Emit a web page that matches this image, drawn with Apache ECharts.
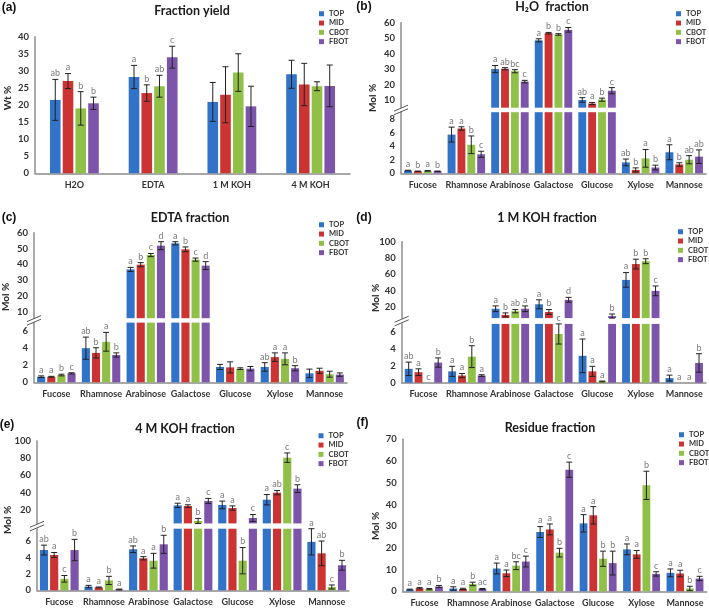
<!DOCTYPE html>
<html><head><meta charset="utf-8">
<script src="https://cdn.jsdelivr.net/npm/echarts@6/dist/echarts.min.js"></script>
<style>html,body{margin:0;padding:0;background:#fff}#c{width:709px;height:609px}</style>
</head><body><div id="c"></div>
<script>
// ---------- data ----------
const groups = ['TOP', 'MID', 'CBOT', 'FBOT'];
const groupColors = ['#3173c8', '#cc3333', '#90c048', '#7c55ab'];
const yieldCats = ['H2O', 'EDTA', '1 M KOH', '4 M KOH'];
const sugarCats = ['Fucose', 'Rhamnose', 'Arabinose', 'Galactose', 'Glucose', 'Xylose', 'Mannose'];

// tick labels
const yieldTicks = [0, 5, 10, 15, 20, 25, 30, 35, 40];
const h2oLowTicks = [0, 2, 4, 6, 8];
const h2oHighTicks = [10, 20, 30, 40, 50, 60];
const edtaLowTicks = [0, 2, 4, 6];
const edtaHighTicks = [10, 20, 30, 40, 50, 60];
const koh1LowTicks = [0, 2, 4, 6];
const koh1HighTicks = [20, 40, 60, 80, 100];
const koh4LowTicks = [0, 2, 4, 6];
const koh4HighTicks = [20, 40, 60, 80, 100];
const residueTicks = [0, 10, 20, 30, 40, 50, 60, 70];

// (a) Fraction yield, rows = TOP, MID, CBOT, FBOT
const yieldMean = [[21.5, 28.2, 20.9, 29.0], [27.0, 23.5, 23.0, 26.0], [19.0, 25.5, 29.5, 25.5], [20.5, 34.0, 19.6, 25.6]];
const yieldErr = [[6.0, 3.4, 5.7, 4.1], [2.2, 2.4, 8.2, 6.2], [4.9, 3.2, 5.5, 1.3], [1.8, 3.2, 5.9, 6.1]];
const yieldLetters = [['ab', 'a', '', ''], ['a', 'b', '', ''], ['b', 'ab', '', ''], ['b', 'c', '', '']];

// (b) H2O fraction
const h2oMean = [[0.4, 5.7, 30.0, 48.6, 10.0, 1.6, 3.1], [0.3, 6.6, 30.2, 53.2, 7.7, 0.5, 1.3], [0.35, 4.2, 28.6, 52.4, 10.2, 2.2, 2.0], [0.3, 2.8, 21.9, 55.4, 16.0, 0.85, 2.45]];
const h2oErr = [[0.05, 1.1, 2.3, 1.0, 1.5, 0.5, 1.1], [0.03, 0.25, 0.7, 0.5, 0.7, 0.3, 0.25], [0.05, 1.3, 1.0, 0.5, 1.0, 1.3, 0.6], [0.04, 0.45, 0.8, 1.5, 2.0, 0.35, 1.0]];
const h2oLetters = [['a', 'a', 'a', 'a', 'ab', 'ab', 'a'], ['b', 'a', 'ab', 'b', 'a', 'b', 'b'], ['a', 'b', 'bc', 'b', 'b', 'a', 'ab'], ['b', 'c', 'c', 'c', 'c', 'b', 'ab']];

// (c) EDTA fraction
const edtaMean = [[0.65, 4.0, 36.8, 53.3, 1.8, 1.8, 1.05], [0.65, 3.45, 39.8, 49.5, 1.75, 2.95, 1.35], [0.85, 4.75, 45.9, 43.0, 1.6, 2.75, 0.95], [1.05, 3.2, 51.8, 39.2, 1.6, 1.65, 0.9]];
const edtaErr = [[0.1, 1.3, 1.3, 1.0, 0.3, 0.5, 0.5], [0.05, 0.6, 1.3, 1.5, 0.65, 0.5, 0.3], [0.1, 1.1, 1.0, 1.0, 0.1, 0.7, 0.35], [0.07, 0.25, 2.5, 2.5, 0.25, 0.3, 0.2]];
const edtaLetters = [['a', 'ab', 'a', 'a', '', 'ab', ''], ['a', 'b', 'b', 'b', '', 'a', ''], ['b', 'a', 'c', 'c', '', 'a', ''], ['c', 'b', 'd', 'd', '', 'b', '']];

// (d) 1 M KOH fraction
const koh1Mean = [[1.65, 1.35, 17.5, 23.0, 3.2, 53.0, 0.55], [1.25, 0.85, 9.9, 13.5, 1.35, 72.5, 0], [0, 3.1, 14.5, 5.8, 0.15, 76.0, 0], [2.4, 0.85, 17.5, 28.5, 8.5, 39.5, 2.35]];
const koh1Err = [[0.8, 0.6, 3.5, 5.5, 2.0, 9.0, 0.35], [0.4, 0.25, 2.5, 3.0, 0.6, 6.0, 0], [0, 1.3, 2.0, 1.2, 0.05, 3.0, 0], [0.55, 0.1, 3.5, 3.0, 2.5, 6.0, 1.1]];
const koh1Letters = [['ab', 'a', 'a', 'a', 'a', 'a', 'a'], ['a', 'a', 'b', 'b', 'a', 'b', 'a'], ['c', 'b', 'ab', 'c', 'a', 'b', 'a'], ['b', 'a', 'a', 'd', 'b', 'c', 'b']];

// (e) 4 M KOH fraction
const koh4Mean = [[4.9, 0.45, 5.0, 25.0, 25.5, 31.6, 5.9], [4.3, 0.35, 3.9, 24.2, 21.9, 39.8, 4.5], [1.4, 1.2, 3.6, 6.8, 3.6, 80.6, 0.4], [4.9, 0.1, 5.6, 30.1, 10.3, 44.5, 3.05]];
const koh4Err = [[0.6, 0.15, 0.4, 2.5, 4.5, 6.0, 1.6], [0.3, 0.05, 0.2, 1.5, 2.5, 2.5, 1.5], [0.4, 0.5, 0.9, 3.0, 1.6, 5.5, 0.25], [1.3, 0.05, 1.1, 3.0, 4.0, 4.5, 0.6]];
const koh4Letters = [['ab', 'a', 'ab', 'a', 'a', 'a', 'a'], ['a', 'a', 'a', 'a', 'a', 'ab', 'ab'], ['c', 'b', 'a', 'b', 'b', 'c', 'c'], ['b', 'a', 'b', 'c', 'c', 'b', 'b']];

// (f) Residue fraction
const residueMean = [[0.8, 1.3, 10.5, 27.3, 31.3, 19.3, 8.5], [1.4, 1.1, 8.3, 28.5, 35.0, 17.0, 8.2], [1.0, 3.4, 11.8, 17.8, 15.0, 48.8, 1.3], [2.2, 1.1, 13.7, 56.0, 13.0, 8.0, 5.9]];
const residueErr = [[0.2, 0.8, 2.5, 2.5, 4.0, 2.5, 1.8], [0.3, 0.3, 1.5, 2.5, 4.0, 1.8, 1.5], [0.3, 0.8, 1.8, 2.0, 3.5, 6.5, 1.0], [0.5, 0.2, 2.5, 3.5, 5.5, 1.0, 1.0]];
const residueLetters = [['a', 'a', 'a', 'a', 'a', 'a', 'a'], ['a', 'a', 'a', 'a', 'a', 'a', 'a'], ['a', 'b', 'bc', 'b', 'b', 'b', 'b'], ['b', 'ac', 'c', 'c', 'b', 'c', 'c']];

// ---------- layout ----------
const panels = [
  { tag: '(a)', title: 'Fraction yield', yName: 'Wt %', cats: yieldCats, mean: yieldMean, err: yieldErr, letters: yieldLetters,
    x0: 35, x1: 350, titleAt: [192, 11], tagAt: [9, 7.5], yNameAt: [8, 98], legendAt: [319, 9.5], catGap: 0.38, barGap: 0.2, split: Infinity,
    axes: [{ top: 36.7, bottom: 173.3, min: 0, max: 40, interval: 5, ticks: yieldTicks }] },
  { tag: '(b)', title: 'H\u2082O  fraction', yName: 'Mol %', cats: sugarCats, mean: h2oMean, err: h2oErr, letters: h2oLetters,
    x0: 401, x1: 706, titleAt: [552, 6.5], tagAt: [364, 7], yNameAt: [373, 98], legendAt: [676, 9.5], catGap: 0.14, barGap: 0.25, split: 7,
    axes: [{ top: 112.2, bottom: 173.3, min: 0, max: 9, interval: 1, ticks: h2oLowTicks },
           { top: 22.7, bottom: 107.7, min: 5, max: 60, interval: 1, ticks: h2oHighTicks }] },
  { tag: '(c)', title: 'EDTA fraction', yName: 'Mol %', cats: sugarCats, mean: edtaMean, err: edtaErr, letters: edtaLetters,
    x0: 34, x1: 347, titleAt: [190, 217.5], tagAt: [9, 217.5], yNameAt: [6, 297], legendAt: [319, 220.5], catGap: 0.14, barGap: 0.25, split: 7,
    axes: [{ top: 322.6, bottom: 382.3, min: 0, max: 7, interval: 1, ticks: edtaLowTicks },
           { top: 232.7, bottom: 318.2, min: 6, max: 60, interval: 1, ticks: edtaHighTicks }] },
  { tag: '(d)', title: '1 M KOH fraction', yName: 'Mol %', cats: sugarCats, mean: koh1Mean, err: koh1Err, letters: koh1Letters,
    x0: 401.7, x1: 706, titleAt: [547, 217.5], tagAt: [364, 217.5], yNameAt: [376, 298], legendAt: [678, 227.5], catGap: 0.14, barGap: 0.25, split: 7,
    axes: [{ top: 323.9, bottom: 382.7, min: 0, max: 7, interval: 1, ticks: koh1LowTicks },
           { top: 241.7, bottom: 318.1, min: 6, max: 100, interval: 1, ticks: koh1HighTicks }] },
  { tag: '(e)', title: '4 M KOH fraction', yName: 'Mol %', cats: sugarCats, mean: koh4Mean, err: koh4Err, letters: koh4Letters,
    x0: 37, x1: 349, titleAt: [185, 428.5], tagAt: [7, 424.5], yNameAt: [8, 520], legendAt: [318.5, 431.5], catGap: 0.13, barGap: 0.25, split: 6.5,
    axes: [{ top: 528.7, bottom: 590.3, min: 0, max: 7.5, interval: 0.5, ticks: koh4LowTicks },
           { top: 441, bottom: 523.4, min: 4, max: 100, interval: 1, ticks: koh4HighTicks }] },
  { tag: '(f)', title: 'Residue fraction', yName: 'Mol %', cats: sugarCats, mean: residueMean, err: residueErr, letters: residueLetters,
    x0: 402.7, x1: 706.7, titleAt: [550, 427.5], tagAt: [362.5, 423], yNameAt: [376, 526], legendAt: [679, 430.5], catGap: 0.15, barGap: 0.25, split: Infinity,
    axes: [{ top: 439.3, bottom: 591.3, min: 0, max: 70, interval: 10, ticks: residueTicks }] }
];

const FONT = 'Lato, "Open Sans", sans-serif';
const AXIS_COLOR = '#8c8c8c';

function makeRender(p) {
  return function (params, api) {
    const i = api.value(0), m = api.value(1), e = api.value(2), s = api.value(3);
    const band = api.size([1, 0])[0];
    const rem = band * (1 - p.catGap);
    const w = rem / (4 + 3 * p.barGap);
    const cx = api.coord([i, m])[0] - rem / 2 + s * w * (1 + p.barGap) + w / 2;
    const yT = api.coord([i, m + e])[1];
    const yB = api.coord([i, m - e])[1];
    const cap = Math.min(3, w * 0.38);
    const ls = { stroke: '#222', lineWidth: 1 };
    const children = [];
    if (e > 0) {
      children.push({ type: 'line', shape: { x1: cx, y1: yT, x2: cx, y2: yB }, style: ls });
      children.push({ type: 'line', shape: { x1: cx - cap, y1: yT, x2: cx + cap, y2: yT }, style: ls });
      children.push({ type: 'line', shape: { x1: cx - cap, y1: yB, x2: cx + cap, y2: yB }, style: ls });
    }
    const L = p.letters[s][i];
    if (L) {
      children.push({ type: 'text', x: cx, y: yT - 1.5,
        style: { text: L, fill: '#7a7a7a', font: '9px ' + FONT, align: 'center', verticalAlign: 'bottom', textAlign: 'center', textVerticalAlign: 'bottom' } });
    }
    return { type: 'group', children: children };
  };
}

function txt(x, y, text, font, fill, rot) {
  return { type: 'text', x: x, y: y, rotation: rot || 0, z: 10,
    style: { text: text, font: font, fill: fill, align: 'center', verticalAlign: 'middle', textAlign: 'center', textVerticalAlign: 'middle' } };
}

const option = { animation: false, backgroundColor: '#ffffff', grid: [], xAxis: [], yAxis: [], series: [], legend: [], graphic: [] };

panels.forEach(function (p) {
  const nG = p.axes.length;
  p.axes.forEach(function (ax, k) {
    const gi = option.grid.length;
    option.grid.push({ left: p.x0, top: ax.top, width: p.x1 - p.x0, height: ax.bottom - ax.top, containLabel: false, outerBoundsMode: 'none' });
    option.xAxis.push({ type: 'category', gridIndex: gi, data: p.cats, show: k === 0,
      axisLine: { lineStyle: { color: AXIS_COLOR, width: 1.5 } }, axisTick: { show: false }, splitLine: { show: false },
      axisLabel: { interval: 0, margin: 7, fontSize: 9, fontWeight: 'bold', color: '#333', fontFamily: FONT } });
    const ticks = ax.ticks;
    option.yAxis.push({ type: 'value', gridIndex: gi, min: ax.min, max: ax.max, interval: ax.interval,
      axisLine: { show: true, lineStyle: { color: AXIS_COLOR, width: 1.5 } }, axisTick: { show: false }, splitLine: { show: false },
      axisLabel: { margin: 6, fontSize: 9.5, fontWeight: 'bold', color: '#333', fontFamily: FONT,
        formatter: function (v) { return ticks.some(function (t) { return Math.abs(t - v) < 1e-6; }) ? String(v) : ''; } } });
    const inGrid = function (m) { return nG === 1 ? true : (k === 0 ? m <= p.split : m > p.split); };
    groups.forEach(function (g, s) {
      const data = p.mean[s].map(function (m) {
        if (nG === 1) return m;
        if (k === 0) return m > p.split ? ax.max : m;
        return m > p.split ? m : '-';
      });
      option.series.push({ type: 'bar', name: g, xAxisIndex: gi, yAxisIndex: gi, data: data, clip: true, silent: true,
        barCategoryGap: (p.catGap * 100) + '%', barGap: (p.barGap * 100) + '%',
        itemStyle: { color: groupColors[s] } });
    });
    const errData = [];
    groups.forEach(function (g, s) {
      p.mean[s].forEach(function (m, i) { if (inGrid(m)) errData.push([i, m, p.err[s][i], s]); });
    });
    option.series.push({ type: 'custom', xAxisIndex: gi, yAxisIndex: gi, data: errData, z: 5, silent: true,
      encode: { x: 0, y: 1 }, renderItem: makeRender(p) });
  });

  if (nG === 2) {
    const lower = p.axes[0], upper = p.axes[1];
    const mid = (upper.bottom + lower.top) / 2;
    const bx = p.x0;
    [-1.8, 1.8].forEach(function (d) {
      option.graphic.push({ type: 'line', z: 10, shape: { x1: bx - 7, y1: mid + d + 3, x2: bx + 7, y2: mid + d - 3 },
        style: { stroke: '#555', lineWidth: 1 } });
    });
  }

  option.legend.push({ orient: 'vertical', left: p.legendAt[0], top: p.legendAt[1], data: groups, icon: 'rect',
    itemWidth: 5, itemHeight: 5, itemGap: 0.8, padding: 0, selectedMode: false,
    textStyle: { fontSize: 7.5, fontWeight: 'bold', color: '#333', fontFamily: FONT, lineHeight: 8.5 } });

  option.graphic.push(txt(p.titleAt[0], p.titleAt[1], p.title, 'bold 12.5px ' + FONT, '#1a1a1a'));
  option.graphic.push(txt(p.tagAt[0], p.tagAt[1], p.tag, 'bold 12px "Liberation Sans", Arial, sans-serif', '#111'));
  option.graphic.push(txt(p.yNameAt[0], p.yNameAt[1], p.yName, 'bold 10px ' + FONT, '#2a2a2a', Math.PI / 2));
});

const chart = echarts.init(document.getElementById('c'), null, { renderer: 'canvas' });
chart.setOption(option);
</script>
</body></html>
